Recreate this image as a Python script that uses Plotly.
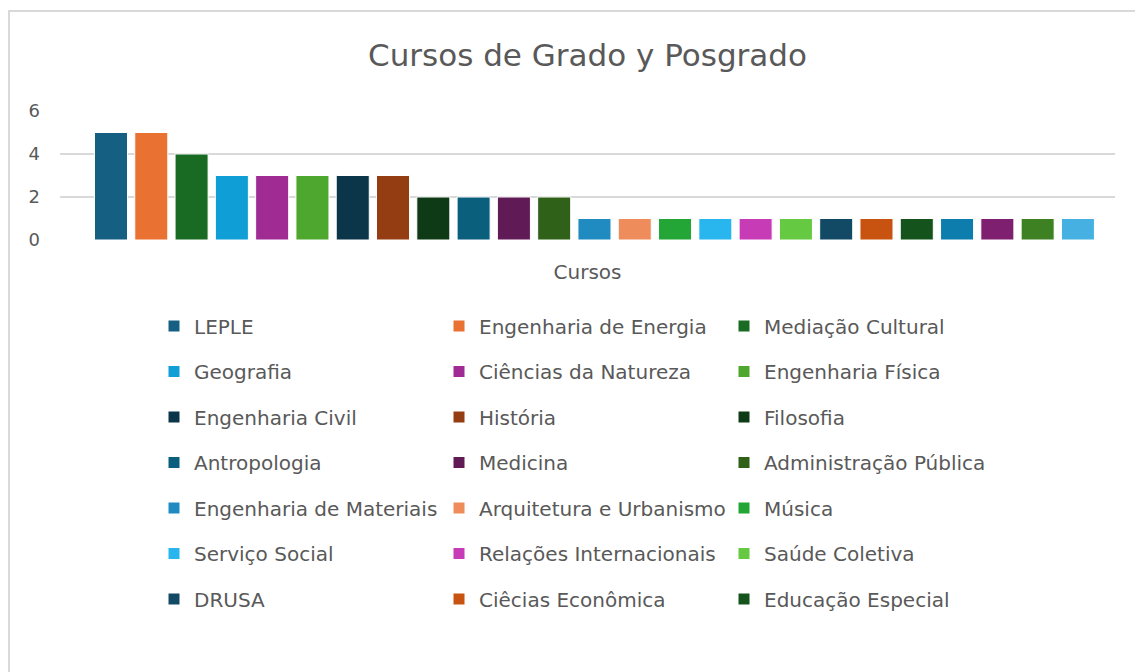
import plotly.graph_objects as go

# ---- data ----
cursos = [
    "LEPLE", "Engenharia de Energia", "Mediação Cultural",
    "Geografia", "Ciências da Natureza", "Engenharia Física",
    "Engenharia Civil", "História", "Filosofia",
    "Antropologia", "Medicina", "Administração Pública",
    "Engenharia de Materiais", "Arquitetura e Urbanismo", "Música",
    "Serviço Social", "Relações Internacionais", "Saúde Coletiva",
    "DRUSA", "Ciêcias Econômica", "Educação Especial",
    "Curso 22", "Curso 23", "Curso 24", "Curso 25",
]
valores = [5, 5, 4, 3, 3, 3, 3, 3, 2, 2, 2, 2,
           1, 1, 1, 1, 1, 1, 1, 1, 1, 1, 1, 1, 1]
cores = [
    "#156082", "#E97132", "#196B24", "#0F9ED5", "#A02B93", "#4EA72E",
    "#0B3548", "#943C12", "#0E3A15", "#0A5F7C", "#601A55", "#2F6119",
    "#1F8BC0", "#EE8C5C", "#23A636", "#29B6EE", "#C73BB7", "#66C942",
    "#124A66", "#C8520F", "#14541C", "#0C7DAD", "#7E1F70", "#3E8122",
    "#47B0E2",
]
n_legenda = 21  # only the first 21 entries are visible in the legend

titulo = "Cursos de Grado y Posgrado"
titulo_x = "Cursos"
y_ticks = [0, 2, 4, 6]

FONT = "DejaVu Sans"
GRAY = "#595959"

fig = go.Figure()
for i, (c, v, col) in enumerate(zip(cursos, valores, cores)):
    fig.add_trace(go.Bar(
        x=[c], y=[v], name=c, marker_color=col,
        marker_line=dict(color="white", width=1),
        legendgroup=f"g{i}",
        showlegend=i < n_legenda,
        width=0.82,
    ))

# figure is placed at (8, 8) inside the page (body margin)
W, H = 1135, 664
L, T = 52, 103
PLOT_R, PLOT_B = 1107, 232
R, B = W - PLOT_R, H - PLOT_B
pw, ph = PLOT_R - L, PLOT_B - T

LEG_FS = 20
item_h = 1.3 * LEG_FS + 3
row_gap = 45.5
legend_top = 318 - 5 - item_h / 2

fig.update_layout(
    width=W, height=H,
    barmode="overlay",
    paper_bgcolor="white", plot_bgcolor="white",
    margin=dict(l=L, r=R, t=T, b=B),
    font=dict(family=FONT, color=GRAY),
    title=dict(text=titulo, x=0.5, xanchor="center", xref="paper",
               y=1 - 47 / H, yanchor="middle",
               font=dict(size=31, color=GRAY, family=FONT)),
    xaxis=dict(type="category", showticklabels=False, showgrid=False,
               range=[-1.266, 24.92], zeroline=False, showline=False,
               ticks="",
               title=dict(text=titulo_x, font=dict(size=20, color=GRAY),
                          standoff=24)),
    yaxis=dict(range=[0, 6], tickvals=y_ticks, showgrid=True,
               gridcolor="#d9d9d9", gridwidth=2, zeroline=False,
               showline=False, ticks="",
               tickfont=dict(size=18, color=GRAY), ticklabelstandoff=19),
    legend=dict(orientation="h", x=(174 - 8 - 20 - L) / pw, xanchor="left",
                y=-(legend_top - PLOT_B) / ph, yanchor="top",
                font=dict(size=LEG_FS, color=GRAY, family=FONT),
                entrywidth=240, tracegroupgap=row_gap - item_h, itemwidth=30,
                bgcolor="rgba(0,0,0,0)"),
    showlegend=True,
)

# chart-area frame
fig.add_shape(type="rect", xref="paper", yref="paper",
              x0=(1 - L) / pw, x1=(W + 20 - L) / pw,
              y0=-(H + 20 - PLOT_B) / ph, y1=(PLOT_B - 3) / ph,
              line=dict(color="#d9d9d9", width=2), layer="below")

fig.write_html("out.html")
